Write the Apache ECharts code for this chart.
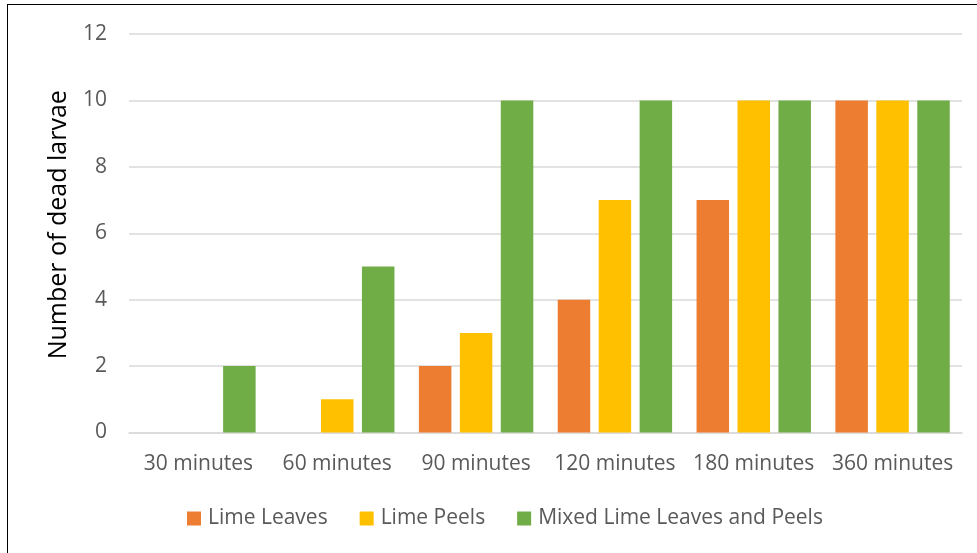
<!DOCTYPE html>
<html>
<head>
<meta charset="utf-8">
<script src="https://cdn.jsdelivr.net/npm/echarts@6/dist/echarts.min.js"></script>
<style>
  html, body { margin: 0; padding: 0; background: #fff; }
  #chart { position: absolute; left: 0; top: 0; width: 977px; height: 553px; }
  #frame { position: absolute; left: 7px; top: 4px; width: 1000px; height: 600px;
           border-left: 1.5px solid #000; border-top: 1.5px solid #000; pointer-events: none; }
</style>
</head>
<body>
<div id="chart"></div>
<div id="frame"></div>
<script>
const categories = ['30 minutes', '60 minutes', '90 minutes', '120 minutes', '180 minutes', '360 minutes'];
const limeLeaves = [0, 0, 2, 4, 7, 10];
const limePeels = [0, 1, 3, 7, 10, 10];
const mixed = [2, 5, 10, 10, 10, 10];
const seriesNames = ['Lime Leaves', 'Lime Peels', 'Mixed Lime Leaves and Peels'];
const colors = ['#ED7D31', '#FFC000', '#70AD47'];

const font = '"Open Sans", "Noto Sans", sans-serif';
const chart = echarts.init(document.getElementById('chart'), null, { renderer: 'canvas' });
const mk = (name, data, color) => ({
  name, type: 'bar', data, barWidth: 32.5, barGap: '26%',
  itemStyle: { color }, emphasis: { disabled: true }
});
chart.setOption({
  animation: false,
  backgroundColor: '#fff',
  grid: { left: 129, right: 15, top: 34, bottom: 120.5, containLabel: false },
  legend: {
    data: seriesNames,
    bottom: 24,
    left: 187,
    padding: 0,
    itemWidth: 14, itemHeight: 14, itemGap: 32,
    icon: 'rect',
    textStyle: { fontFamily: font, fontSize: 21, color: '#595959', padding: [0, 0, 0, 2] }
  },
  xAxis: {
    type: 'category',
    data: categories,
    axisLine: { lineStyle: { color: '#D9D9D9', width: 1.5 } },
    axisTick: { show: false },
    axisLabel: { fontFamily: font, fontSize: 21, color: '#595959', margin: 21, interval: 0, hideOverlap: false }
  },
  yAxis: {
    type: 'value', min: 0, max: 12, interval: 2,
    name: 'Number of dead larvae',
    nameLocation: 'middle', nameRotate: 90, nameGap: 58,
    nameTextStyle: { fontFamily: font, fontSize: 25, color: '#000', padding: [0, 0, 0, 17] },
    axisLine: { show: false }, axisTick: { show: false },
    splitLine: { lineStyle: { color: '#D9D9D9', width: 1.5 } },
    axisLabel: { fontFamily: font, fontSize: 21, color: '#595959', margin: 22 }
  },
  series: [
    mk(seriesNames[0], limeLeaves, colors[0]),
    mk(seriesNames[1], limePeels, colors[1]),
    mk(seriesNames[2], mixed, colors[2])
  ]
});
</script>
</body>
</html>
